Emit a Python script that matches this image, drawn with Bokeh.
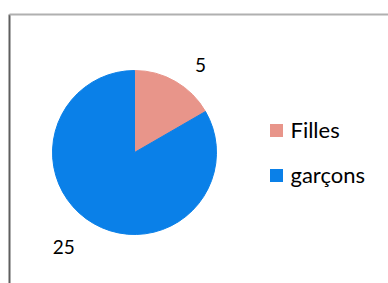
import math
from bokeh.plotting import figure
from bokeh.models import Range1d, ColumnDataSource
from bokeh.core.properties import value
from bokeh.embed import file_html
from bokeh.resources import INLINE

categories = ["Filles", "garçons"]
counts = [5, 25]
colors = ["#E8958A", "#0A80E8"]

W, H = 388, 283
p = figure(width=W, height=H, x_range=Range1d(0, W), y_range=Range1d(0, H),
           output_backend="svg", toolbar_location=None, min_border=0)
p.axis.visible = False
p.grid.visible = False
p.outline_line_color = None
p.background_fill_color = "white"

# frame of the chart area
p.segment(x0=[9, 9], y0=[269, 269], x1=[9, W], y1=[-5, 269],
          line_color=["#5f5f5f", "#b0b0b0"], line_width=[2, 2])

cx, cy, r = 134, 131, 82
total = sum(counts)
starts, ends, mids = [], [], []
a = math.pi / 2
for c in counts:
    span = 2 * math.pi * c / total
    starts.append(a - span)
    ends.append(a)
    mids.append(a - span / 2)
    a -= span

src = ColumnDataSource(dict(start=starts, end=ends, color=colors,
                            cat=categories, n=[str(c) for c in counts]))
p.wedge(x=cx, y=cy, radius=r, radius_units="screen", start_angle="start",
        end_angle="end", fill_color="color", line_color="color", line_width=1,
        source=src)

lab_r = [110, 118]
lx = [cx + rr * math.cos(m - 0.12) for rr, m in zip(lab_r, mids)]
ly = [cy + rr * math.sin(m - 0.12) for rr, m in zip(lab_r, mids)]
p.text(x=lx, y=ly, text=[str(c) for c in counts], text_font=value("Lato"),
       text_font_size="19px", text_align="center", text_baseline="middle",
       text_color="#000000")

# legend
leg_y = [153, 108]
p.rect(x=[276, 276], y=leg_y, width=13, height=13,
       width_units="screen", height_units="screen", fill_color=colors,
       line_color=None)
p.text(x=[290, 290], y=[s + 1 for s in leg_y], text=categories,
       text_font=value("Lato"), text_font_size="22px", text_align="left",
       text_baseline="middle", text_color="#000000")

open("out.html", "w").write(file_html(p, INLINE))
